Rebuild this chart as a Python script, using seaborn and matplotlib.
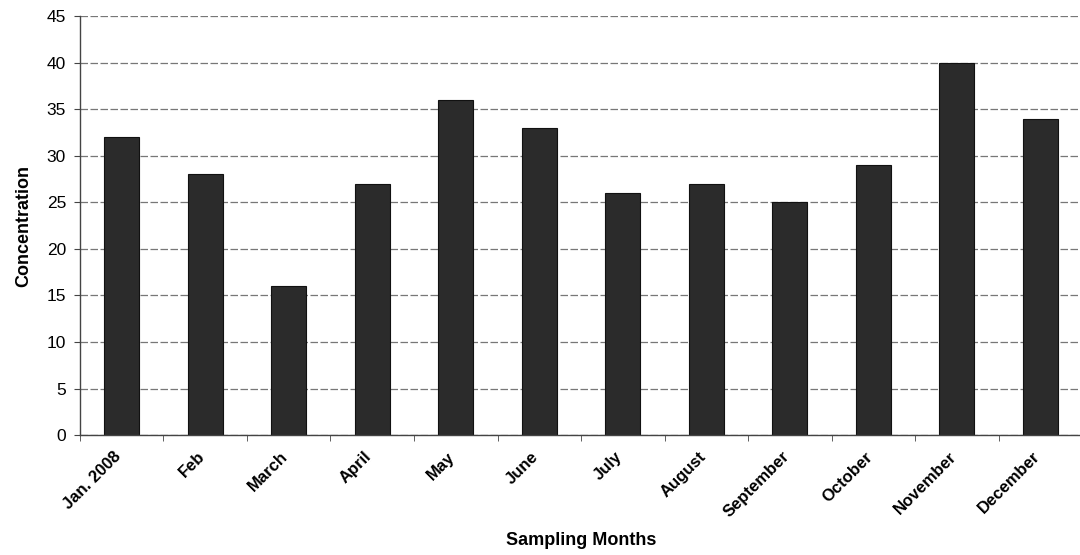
import pandas as pd
import matplotlib
matplotlib.use("Agg")
import matplotlib.pyplot as plt
import matplotlib.transforms as mtransforms
import seaborn as sns
import numpy as np

months = ["Jan. 2008", "Feb", "March", "April", "May", "June", "July",
          "August", "September", "October", "November", "December"]
concentration = [32, 28, 16, 27, 36, 33, 26, 27, 25, 29, 40, 34]
y_ticks = [0, 5, 10, 15, 20, 25, 30, 35, 40, 45]

sns.set_style("white")
plt.rcParams["font.family"] = ["Liberation Sans", "DejaVu Sans"]
plt.rcParams["text.color"] = "black"
plt.rcParams["axes.labelcolor"] = "black"
plt.rcParams["xtick.color"] = "black"
plt.rcParams["ytick.color"] = "black"

df = pd.DataFrame({"Month": months, "Concentration": concentration})

fig = plt.figure(figsize=(10.8, 5.55), dpi=100)
ax = fig.add_axes([0.074, 0.216, 0.928, 0.755])

sns.barplot(data=df, x="Month", y="Concentration", color="#2b2b2b",
            edgecolor="#111111", linewidth=0.8, width=0.42, saturation=1, ax=ax)

ax.set_ylim(0, 45)
ax.set_xlim(-0.5, len(months) - 0.5)
ax.set_yticks(y_ticks)
ax.yaxis.grid(True, color="#777777", linewidth=0.9, linestyle=(0, (6, 2)))
ax.set_axisbelow(True)

for side in ["top", "right"]:
    ax.spines[side].set_visible(False)
for side in ["left", "bottom"]:
    ax.spines[side].set_color("#444444")
    ax.spines[side].set_linewidth(1.0)

# Excel-style ticks between categories
ax.set_xticks(np.arange(-0.5, len(months), 1.0), minor=True)
ax.tick_params(axis="x", which="minor", length=4, color="#444444", bottom=True)
ax.tick_params(axis="x", which="major", length=0, pad=10)
ax.tick_params(axis="y", which="major", length=4, color="#444444", left=True,
               labelsize=12.5, pad=6)

ax.set_xticks(range(len(months)))
ax.set_xticklabels(months, rotation=45, ha="right", rotation_mode="anchor",
                   fontsize=12, fontweight="bold")
shift = mtransforms.ScaledTranslation(-6 / 72, 0, fig.dpi_scale_trans)
for lbl in ax.get_xticklabels():
    lbl.set_transform(lbl.get_transform() + shift)

ax.set_ylabel("Concentration", fontsize=13, fontweight="bold", labelpad=10)
ax.set_xlabel("Sampling Months", fontsize=13, fontweight="bold")
ax.xaxis.set_label_coords(0.5, -0.232)

fig.savefig("out.png", dpi=100)
plt.close(fig)
